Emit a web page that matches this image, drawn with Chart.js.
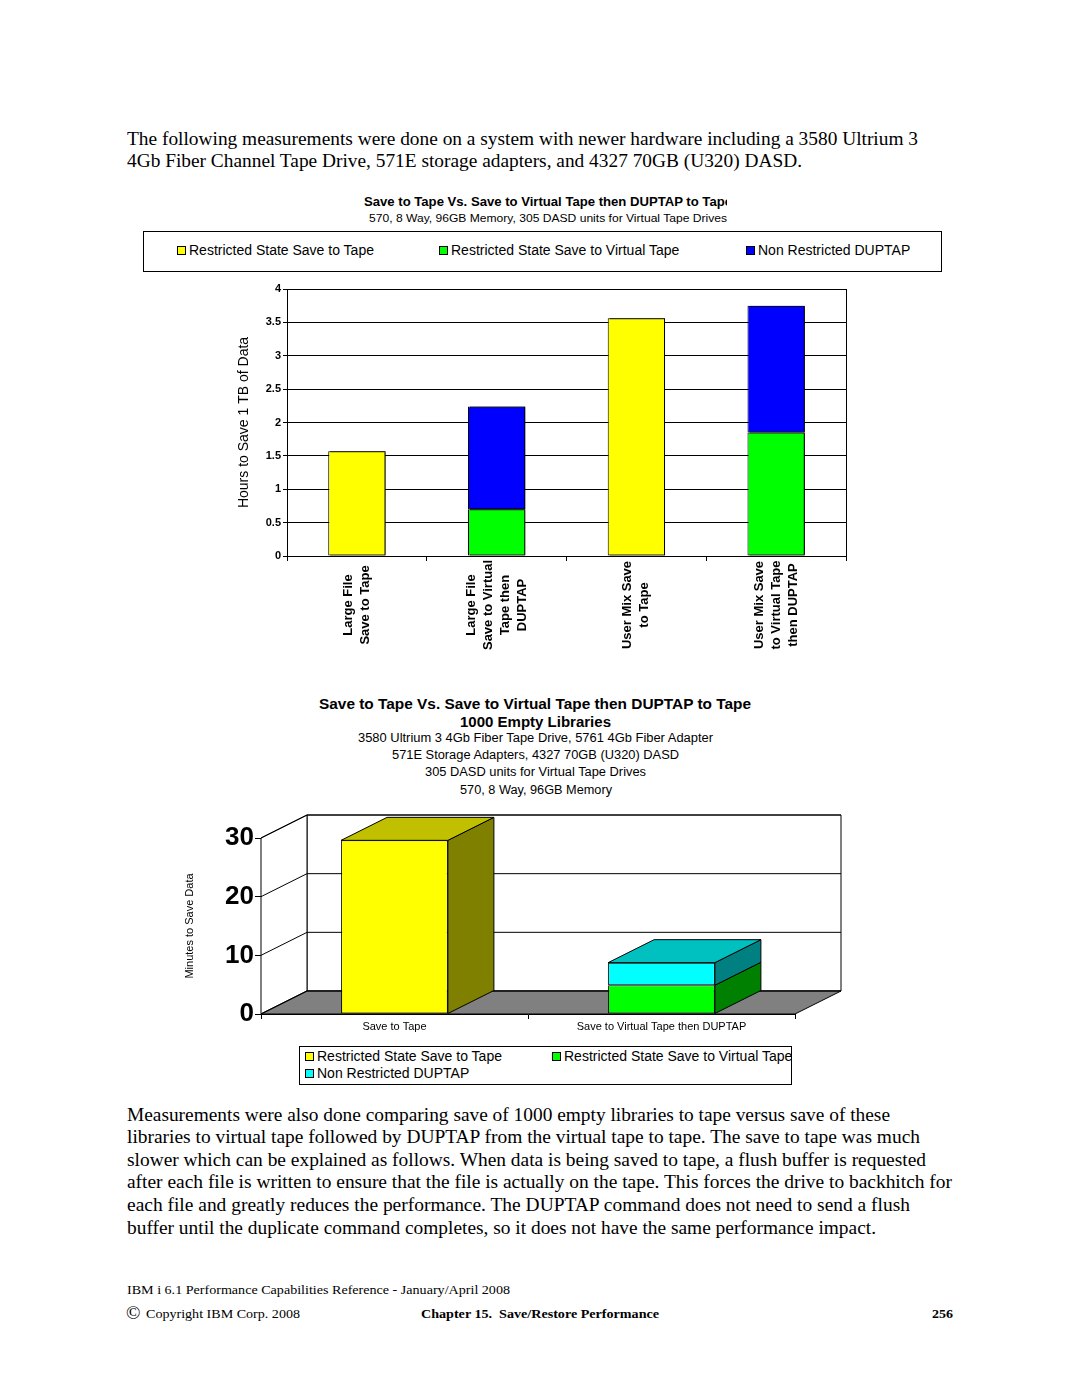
<!DOCTYPE html>
<html>
<head>
<meta charset="utf-8">
<script src="https://cdn.jsdelivr.net/npm/chart.js@4.4.0/dist/chart.umd.min.js"></script>
<style>
  body { margin: 0; background: #fff; }
  #page { position: relative; width: 1080px; height: 1397px; overflow: hidden; color: #000;
          font-family: "Liberation Sans", Arial, sans-serif; }
  .t { position: absolute; white-space: nowrap; transform-origin: 0 50%; }
  .p { font-family: "Liberation Serif", "Times New Roman", serif; font-size: 19px; line-height: 22px; left: 127px; }
  .foot { font-family: "Liberation Serif", "Times New Roman", serif; font-size: 13px; line-height: 16px; }
  .box { position: absolute; border: 1px solid #000; box-sizing: border-box; }
  .sw { display: inline-block; width: 9px; height: 9px; border: 1px solid #000; box-sizing: border-box; margin-right: 3px; vertical-align: 0px; }
  .lg { position: absolute; font-size: 14px; line-height: 16px; white-space: nowrap; }
  canvas { position: absolute; }
</style>
</head>
<body>
<div id="page">
  <div class="t p" style="top:128px" data-w="791">The following measurements were done on a system with newer hardware including a 3580 Ultrium 3</div>
  <div class="t p" style="top:150px" data-w="675">4Gb Fiber Channel Tape Drive, 571E storage adapters, and 4327 70GB (U320) DASD.</div>

  <!-- chart 1 titles -->
  <div style="position:absolute;left:364px;top:195px;width:363px;height:15px;overflow:hidden">
    <div class="t" style="left:0;top:0;font-size:12px;line-height:14px;font-weight:bold" data-w="368">Save to Tape Vs. Save to Virtual Tape then DUPTAP to Tape</div>
  </div>
  <div class="t" style="top:212px;font-size:11px;line-height:13px" data-c="548" data-w="358">570, 8 Way, 96GB Memory, 305 DASD units for Virtual Tape Drives</div>
  <div class="box" style="left:143px;top:231px;width:799px;height:41px"></div>
  <div id="legend1"></div>
  <canvas id="chart1" width="640" height="380" style="left:220px;top:280px"></canvas>

  <!-- chart 2 titles -->
  <div class="t" style="top:696px;font-size:14px;line-height:16px;font-weight:bold" data-c="535" data-w="432">Save to Tape Vs. Save to Virtual Tape then DUPTAP to Tape</div>
  <div class="t" style="top:714px;font-size:14px;line-height:16px;font-weight:bold" data-c="535" data-w="151">1000 Empty Libraries</div>
  <div class="t" style="top:731px;font-size:12px;line-height:14px" data-c="535" data-w="355">3580 Ultrium 3 4Gb Fiber Tape Drive, 5761 4Gb Fiber Adapter</div>
  <div class="t" style="top:748px;font-size:12px;line-height:14px" data-c="535" data-w="287">571E Storage Adapters, 4327 70GB (U320) DASD</div>
  <div class="t" style="top:765px;font-size:12px;line-height:14px" data-c="535" data-w="221">305 DASD units for Virtual Tape Drives</div>
  <div class="t" style="top:783px;font-size:12px;line-height:14px" data-c="536" data-w="152">570, 8 Way, 96GB Memory</div>
  <canvas id="chart2" width="690" height="240" style="left:170px;top:800px"></canvas>
  <div class="box" style="left:299px;top:1046px;width:493px;height:39px"></div>
  <div id="legend2"></div>

  <div class="t p" style="top:1104px" data-w="763">Measurements were also done comparing save of 1000 empty libraries to tape versus save of these</div>
  <div class="t p" style="top:1126px" data-w="793">libraries to virtual tape followed by DUPTAP from the virtual tape to tape. The save to tape was much</div>
  <div class="t p" style="top:1149px" data-w="799">slower which can be explained as follows. When data is being saved to tape, a flush buffer is requested</div>
  <div class="t p" style="top:1171px" data-w="825">after each file is written to ensure that the file is actually on the tape. This forces the drive to backhitch for</div>
  <div class="t p" style="top:1194px" data-w="783">each file and greatly reduces the performance. The DUPTAP command does not need to send a flush</div>
  <div class="t p" style="top:1217px" data-w="749">buffer until the duplicate command completes, so it does not have the same performance impact.</div>

  <div class="t foot" style="left:127px;top:1282px" data-w="383">IBM i 6.1 Performance Capabilities Reference - January/April 2008</div>
  <div class="t" style="left:126px;top:1302px;font-family:'Liberation Serif',serif;font-size:19px;line-height:22px">&copy;</div>
  <div class="t foot" style="left:146px;top:1306px" data-w="154">Copyright IBM Corp. 2008</div>
  <div class="t foot" style="left:421px;top:1306px;font-weight:bold" data-w="238">Chapter 15.&nbsp; Save/Restore Performance</div>
  <div class="t foot" style="left:932px;top:1306px;font-weight:bold" data-w="21">256</div>
</div>

<script>
// ---- data ----
const seriesNames = ['Restricted State Save to Tape', 'Restricted State Save to Virtual Tape', 'Non Restricted DUPTAP'];

const tapeLabels = [
  ['Large File', 'Save to Tape'],
  ['Large File', 'Save to Virtual', 'Tape then', 'DUPTAP'],
  ['User Mix Save', 'to Tape'],
  ['User Mix Save', 'to Virtual Tape', 'then DUPTAP']
];
const saveToTape = [1.57, null, 3.56, null];
const saveToVirtual = [null, 0.70, null, 1.85];
const dupTap = [null, 1.54, null, 1.90];

const libLabels = ['Save to Tape', 'Save to Virtual Tape then DUPTAP'];
const libSaveToTape = [29.6, null];
const libSaveToVirtual = [null, 4.9];
const libDupTap = [null, 3.85];

// fit the text lines to the widths they have in the page
document.querySelectorAll('[data-w]').forEach(el => {
  const w = el.getBoundingClientRect().width;
  const target = parseFloat(el.dataset.w);
  if (el.dataset.c) el.style.left = (parseFloat(el.dataset.c) - target / 2) + 'px';
  el.style.transform = 'scaleX(' + (target / w) + ')';
});

// html legends
const legend1 = document.getElementById('legend1');
const leg1Pos = [177, 439, 746];
const leg1Col = ['#ffff00', '#00ff00', '#0000ff'];
seriesNames.forEach((name, i) => {
  const d = document.createElement('div');
  d.className = 'lg';
  d.style.left = leg1Pos[i] + 'px';
  d.style.top = '242px';
  d.innerHTML = '<span class="sw" style="background:' + leg1Col[i] + '"></span>' + name;
  legend1.appendChild(d);
});
const legend2 = document.getElementById('legend2');
const leg2Pos = [[305, 1048], [552, 1048], [305, 1065]];
const leg2Col = ['#ffff00', '#00ff00', '#00ffff'];
seriesNames.forEach((name, i) => {
  const d = document.createElement('div');
  d.className = 'lg';
  d.style.left = leg2Pos[i][0] + 'px';
  d.style.top = leg2Pos[i][1] + 'px';
  d.innerHTML = '<span class="sw" style="background:' + leg2Col[i] + '"></span>' + name;
  legend2.appendChild(d);
});

Chart.defaults.font.family = '"Liberation Sans", Arial, sans-serif';
Chart.defaults.color = '#000';

// ---- chart 1 ----
const frame = {
  id: 'frame',
  afterDraw(chart) {
    const {ctx, chartArea: a} = chart;
    ctx.save();
    ctx.strokeStyle = '#000';
    ctx.lineWidth = 1;
    ctx.strokeRect(Math.round(a.left) + 0.5, Math.round(a.top) + 0.5, Math.round(a.right - a.left), Math.round(a.bottom - a.top));
    ctx.restore();
  }
};

const barShadow = {
  id: 'barShadow',
  beforeDatasetsDraw(chart) {
    const ctx = chart.ctx;
    ctx.save();
    ctx.shadowColor = '#000';
    ctx.shadowOffsetX = 2;
    ctx.shadowOffsetY = 0;
    ctx.shadowBlur = 0;
  },
  afterDatasetsDraw(chart) {
    chart.ctx.restore();
  }
};

const catLabels = {
  id: 'catLabels',
  afterDraw(chart) {
    const {ctx, scales: {x}} = chart;
    ctx.save();
    ctx.fillStyle = '#000';
    ctx.font = 'bold 13px "Liberation Sans", Arial, sans-serif';
    ctx.textAlign = 'center';
    ctx.textBaseline = 'middle';
    tapeLabels.forEach((lines, i) => {
      const px = x.getPixelForValue(i);
      ctx.save();
      ctx.translate(px, x.top + 49);
      ctx.rotate(-Math.PI / 2);
      lines.forEach((s, j) => ctx.fillText(s, 0, (j - (lines.length - 1) / 2) * 17));
      ctx.restore();
    });
    ctx.restore();
  }
};

new Chart(document.getElementById('chart1'), {
  type: 'bar',
  data: {
    labels: tapeLabels.map(l => l.join(' ')),
    datasets: [
      {label: seriesNames[0], data: saveToTape, backgroundColor: '#ffff00'},
      {label: seriesNames[1], data: saveToVirtual, backgroundColor: '#00ff00'},
      {label: seriesNames[2], data: dupTap, backgroundColor: '#0000ff'}
    ]
  },
  options: {
    responsive: false,
    animation: false,
    layout: {padding: {top: 9, right: 14, left: 0, bottom: 0}},
    datasets: {bar: {borderColor: '#000', borderWidth: 1, borderSkipped: false, categoryPercentage: 1, barPercentage: 0.41}},
    plugins: {legend: {display: false}, tooltip: {enabled: false}},
    scales: {
      x: {
        stacked: true,
        grid: {drawOnChartArea: false, offset: true, tickLength: 5, color: '#000'},
        border: {color: '#000'},
        ticks: {display: false},
        afterFit(s) { s.height = 104; }
      },
      y: {
        stacked: true, min: 0, max: 4,
        ticks: {stepSize: 0.5, font: {size: 11, weight: 'bold'}, padding: 2, callback: v => String(v)},
        grid: {color: '#000', tickLength: 4},
        border: {color: '#000'},
        title: {display: true, text: 'Hours to Save 1 TB of Data', font: {size: 14}, padding: {top: 16}},
        afterFit(s) { s.width = 67; }
      }
    }
  },
  plugins: [frame, barShadow, catLabels]
});

// ---- chart 2 (3d look) ----
const DX = 46, DY = -23;

function poly(ctx, pts, fill) {
  ctx.beginPath();
  pts.forEach((p, i) => i ? ctx.lineTo(p[0], p[1]) : ctx.moveTo(p[0], p[1]));
  ctx.closePath();
  if (fill) { ctx.fillStyle = fill; ctx.fill(); }
  ctx.stroke();
}

const box3d = {
  id: 'box3d',
  beforeDatasetsDraw(chart) {
    const {ctx, chartArea: a, scales: {y}} = chart;
    const l = a.left, r = a.right, top = a.top, bot = a.bottom;
    ctx.save();
    ctx.strokeStyle = '#000';
    ctx.lineWidth = 1;
    poly(ctx, [[l + DX, top + DY], [r + DX, top + DY], [r + DX, bot + DY], [l + DX, bot + DY]], '#fff');
    poly(ctx, [[l, top], [l + DX, top + DY], [l + DX, bot + DY], [l, bot]], '#fff');
    poly(ctx, [[l, bot], [r, bot], [r + DX, bot + DY], [l + DX, bot + DY]], '#808080');
    y.ticks.forEach(t => {
      const py = y.getPixelForValue(t.value);
      ctx.beginPath();
      ctx.moveTo(l, py);
      ctx.lineTo(l + DX, py + DY);
      ctx.lineTo(r + DX, py + DY);
      ctx.stroke();
    });
    ctx.restore();
  },
  afterDatasetsDraw(chart) {
    const ctx = chart.ctx;
    const sets = chart.data.datasets;
    ctx.save();
    ctx.strokeStyle = '#000';
    ctx.lineWidth = 1;
    sets.forEach((ds, di) => {
      chart.getDatasetMeta(di).data.forEach((bar, i) => {
        if (ds.data[i] == null) return;
        const {x, y, base, width} = bar.getProps(['x', 'y', 'base', 'width'], true);
        const l = x - width / 2, r = x + width / 2;
        poly(ctx, [[r, y], [r + DX, y + DY], [r + DX, base + DY], [r, base]], ds.sideColor);
        const isTop = sets.every((d, dj) => dj <= di || d.data[i] == null);
        if (isTop) poly(ctx, [[l, y], [l + DX, y + DY], [r + DX, y + DY], [r, y]], ds.topColor);
      });
    });
    ctx.restore();
  }
};

new Chart(document.getElementById('chart2'), {
  type: 'bar',
  data: {
    labels: libLabels,
    datasets: [
      {label: seriesNames[0], data: libSaveToTape, backgroundColor: '#ffff00', sideColor: '#808000', topColor: '#c0c000'},
      {label: seriesNames[1], data: libSaveToVirtual, backgroundColor: '#00ff00', sideColor: '#008000', topColor: '#00c000'},
      {label: seriesNames[2], data: libDupTap, backgroundColor: '#00ffff', sideColor: '#008080', topColor: '#00c0c0'}
    ]
  },
  options: {
    responsive: false,
    animation: false,
    layout: {padding: {top: 38, right: 65, left: 0, bottom: 0}},
    datasets: {bar: {borderColor: '#000', borderWidth: 1, borderSkipped: false, categoryPercentage: 1, barPercentage: 0.4}},
    plugins: {legend: {display: false}, tooltip: {enabled: false}},
    scales: {
      x: {
        stacked: true,
        grid: {drawOnChartArea: false, offset: true, tickLength: 5, color: '#000'},
        border: {color: '#000'},
        ticks: {font: {size: 11}, padding: 1, maxRotation: 0},
        afterFit(s) { s.height = 26; }
      },
      y: {
        stacked: true, min: 0, max: 30,
        ticks: {stepSize: 10, font: {size: 26, weight: 'bold'}, padding: 1},
        grid: {drawOnChartArea: false, tickLength: 6, color: '#000'},
        border: {color: '#000'},
        title: {display: true, text: 'Minutes to Save Data', font: {size: 11}, padding: {top: 13}},
        afterFit(s) { s.width = 91; }
      }
    }
  },
  plugins: [box3d]
});
</script>
</body>
</html>
